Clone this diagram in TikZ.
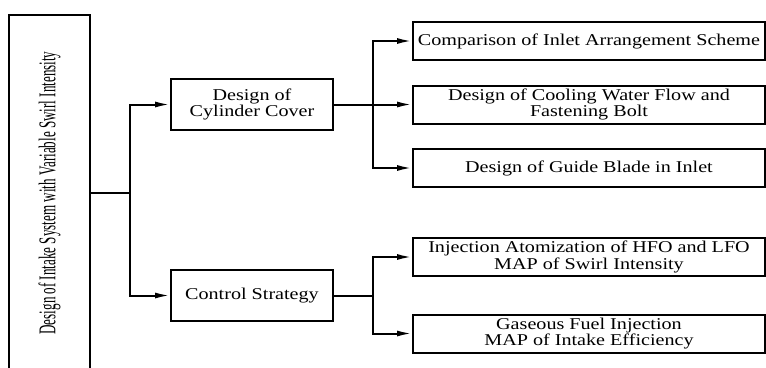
\documentclass[tikz,border=0pt]{standalone}
\usepackage{fontspec}
\setmainfont{Liberation Serif}[FakeStretch=1.22]
\newfontfamily\rotfont{Liberation Serif}[FakeStretch=0.545]
\usetikzlibrary{arrows.meta}
\tikzset{
  box/.style={draw, line width=2pt, inner sep=0pt, align=center, font=\fontsize{16.5}{15}\selectfont},
  conn/.style={line width=2pt},
  arr/.style={conn, -{Latex[length=15pt,width=6pt]}},
}
\begin{document}
\begin{tikzpicture}[x=1pt,y=-1pt]
\useasboundingbox (0,0) rectangle (766,367);
\node[box, rotate=90, minimum width=356pt, minimum height=81pt, font=\rotfont\fontsize{24}{26}\selectfont] (main) at (49.5,193) {Design of Intake System with Variable Swirl Intensity};
\node[box, minimum width=162pt, minimum height=51pt] (cyl) at (252,104.5) {Design of\\Cylinder Cover};
\node[box, minimum width=162pt, minimum height=51pt] (ctrl) at (252,295.5) {Control Strategy};
\node[box, minimum width=352pt, minimum height=38pt] (r1) at (589,41) {Comparison of Inlet Arrangement Scheme};
\node[box, minimum width=352pt, minimum height=38pt] (r2) at (589,104.5) {Design of Cooling Water Flow and\\Fastening Bolt};
\node[box, minimum width=352pt, minimum height=38pt] (r3) at (589,168) {Design of Guide Blade in Inlet};
\node[box, minimum width=352pt, minimum height=38pt] (r4) at (589,257) {Injection Atomization of HFO and LFO\\MAP of Swirl Intensity};
\node[box, minimum width=352pt, minimum height=38pt] (r5) at (589,333.5) {Gaseous Fuel Injection\\MAP of Intake Efficiency};
\coordinate (j1) at (130,193);
\coordinate (j2) at (373,104.5);
\coordinate (j3) at (373,295.5);
\draw[conn] (main) -- (j1);
\draw[arr] (j1) |- (cyl.west);
\draw[arr] (j1) |- (ctrl.west);
\draw[conn] (cyl.east) -- (j2);
\draw[arr] (j2) |- (r1.west);
\draw[arr] (j2) -- (r2.west);
\draw[arr] (j2) |- (r3.west);
\draw[conn] (ctrl.east) -- (j3);
\draw[arr] (j3) |- (r4.west);
\draw[arr] (j3) |- (r5.west);
\end{tikzpicture}
\end{document}
